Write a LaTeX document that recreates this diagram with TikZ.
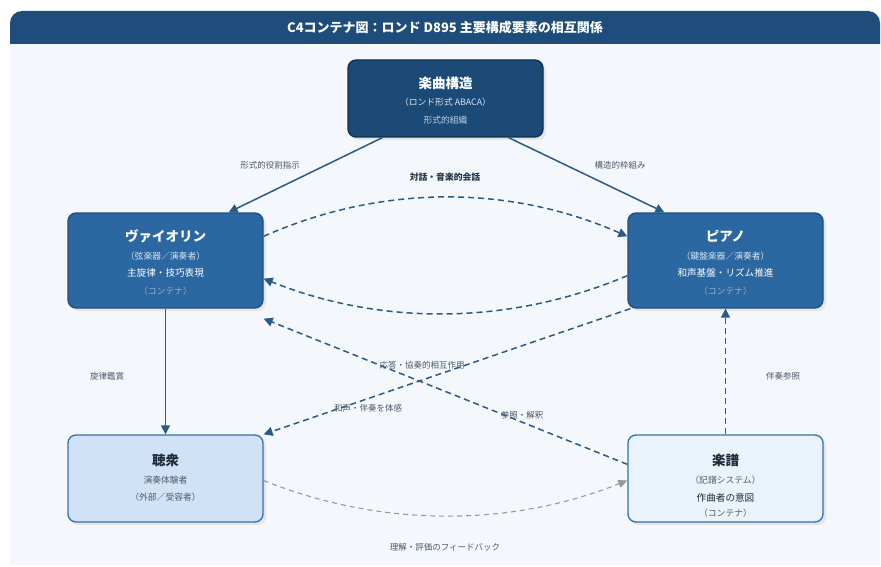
\documentclass[tikz,border=0pt]{standalone}
\usepackage{fontspec}
\setmainfont{Noto Sans CJK JP}
\usetikzlibrary{arrows.meta}
\definecolor{titlebg}{HTML}{1E4D7B}
\definecolor{pagebg}{HTML}{F4F8FC}
\definecolor{topfill}{HTML}{1C4A77}
\definecolor{topdraw}{HTML}{0F2F50}
\definecolor{midfill}{HTML}{2B67A0}
\definecolor{middraw}{HTML}{1F4E7E}
\definecolor{audfill}{HTML}{D0E2F5}
\definecolor{scofill}{HTML}{EAF3FB}
\definecolor{lightdraw}{HTML}{3471A8}
\definecolor{arrowc}{HTML}{2A5A8A}
\definecolor{labelc}{HTML}{4A5868}
\definecolor{subwhite}{HTML}{D6E4F2}
\definecolor{faded}{HTML}{8FB0D2}
\definecolor{darktext}{HTML}{1E2A38}
\definecolor{graytext}{HTML}{505A66}
\tikzset{
  x=1pt,y=-1pt,
  box/.style={rounded corners=8pt,line width=1.3pt,minimum width=195pt,inner sep=0pt},
  ttl/.style={font=\bfseries\fontsize{13.5}{15}\selectfont},
  sub/.style={font=\fontsize{8.8}{10}\selectfont},
  main/.style={font=\fontsize{9.6}{11}\selectfont},
  lbl/.style={font=\fontsize{8.5}{10}\selectfont,text=labelc},
  conn/.style={draw=arrowc,line width=1.5pt,-{Triangle[length=9pt,width=9pt]}},
  dconn/.style={conn,dash pattern=on 6pt off 4pt},
  gconn/.style={draw=black!40,line width=1.1pt,dash pattern=on 5pt off 4pt,-{Triangle[length=9pt,width=8pt]}}
}
\begin{document}
\begin{tikzpicture}
\useasboundingbox (0,0) rectangle (881,567);
\fill[white] (0,0) rectangle (881,567);
\fill[pagebg] (10,40) rectangle (880,565);
\fill[titlebg,rounded corners=12pt] (10,11) rectangle (880,56);
\fill[titlebg] (10,34) rectangle (880,44);
\fill[pagebg] (10,44) rectangle (880,56);
\node[text=white,font=\bfseries\fontsize{13}{15}\selectfont] (title) at (445,28) {C4コンテナ図：ロンド D895 主要構成要素の相互関係};

% shadows
\fill[black!10,rounded corners=8pt] (350,63) rectangle (546,140);
\fill[black!10,rounded corners=8pt] (70,216) rectangle (266,311);
\fill[black!10,rounded corners=8pt] (630,216) rectangle (826,311);
\fill[black!10,rounded corners=8pt] (70,438) rectangle (266,525);
\fill[black!10,rounded corners=8pt] (630,438) rectangle (826,525);

% boxes
\node[box,fill=topfill,draw=topdraw,minimum height=77pt] (struct) at (445.5,98.5) {};
\node[box,fill=midfill,draw=middraw,minimum height=95pt] (vio) at (165.5,260.5) {};
\node[box,fill=midfill,draw=middraw,minimum height=95pt] (pia) at (725.5,260.5) {};
\node[box,fill=audfill,draw=lightdraw,minimum height=87pt] (aud) at (165.5,478.5) {};
\node[box,fill=scofill,draw=lightdraw,minimum height=87pt] (sco) at (725.5,478.5) {};

% texts
\node[ttl,text=white] (structT) at (445.5,83) {楽曲構造};
\node[sub,text=subwhite] (structS) at (445.5,102) {（ロンド形式 ABACA）};
\node[sub,text=subwhite!85!topfill] (structR) at (445.5,120) {形式的組織};

\node[ttl,text=white] (vioT) at (165.5,236) {ヴァイオリン};
\node[sub,text=subwhite] (vioS) at (165.5,256) {（弦楽器／演奏者）};
\node[main,text=white] (vioR) at (165.5,273) {主旋律・技巧表現};
\node[sub,text=faded] (vioC) at (165.5,291) {（コンテナ）};

\node[ttl,text=white] (piaT) at (725.5,236) {ピアノ};
\node[sub,text=subwhite] (piaS) at (725.5,256) {（鍵盤楽器／演奏者）};
\node[main,text=white] (piaR) at (725.5,273) {和声基盤・リズム推進};
\node[sub,text=faded] (piaC) at (725.5,291) {（コンテナ）};

\node[ttl,text=darktext] (audT) at (165.5,460) {聴衆};
\node[sub,text=graytext] (audS) at (165.5,480) {演奏体験者};
\node[sub,text=graytext] (audR) at (165.5,497) {（外部／受容者）};

\node[ttl,text=darktext] (scoT) at (725.5,460) {楽譜};
\node[sub,text=graytext] (scoS) at (725.5,480) {（記譜システム）};
\node[main,text=darktext] (scoR) at (725.5,498) {作曲者の意図};
\node[sub,text=graytext] (scoC) at (725.5,513) {（コンテナ）};

% connectors
\draw[conn] ([xshift=35pt]struct.south west) -- ([xshift=-35pt]vio.north east);
\draw[conn] ([xshift=-35pt]struct.south east) -- ([xshift=37pt]pia.north west);
\draw[dconn] ([yshift=-24pt]vio.north east) .. controls +(117,-52) and +(-118,-52) .. ([yshift=-24pt]pia.north west);
\draw[dconn] ([yshift=33pt]pia.south west) .. controls +(-118,50) and +(117,47) .. ([yshift=30pt]vio.south east);
\draw[conn] (vio.south) -- (aud.north);
\draw[dconn] ([xshift=3pt]pia.south west) -- (aud.north east);
\draw[dconn] ([yshift=-30pt]sco.north west) -- ([yshift=-10pt]vio.south east);
\draw[dconn] (sco.north) -- (pia.south);
\draw[gconn] ([yshift=-2pt]aud.east) .. controls +(117,47) and +(-118,47) .. ([yshift=-2pt]sco.west);

% labels
\node[lbl] (l1) at (270,165) {形式的役割指示};
\node[lbl] (l2) at (620,165) {構造的枠組み};
\node[lbl,text=darktext!80!arrowc,font=\bfseries\fontsize{8.8}{10}\selectfont] (l3) at (445,177) {対話・音楽的会話};
\node[lbl] (l4) at (107,376) {旋律鑑賞};
\node[lbl] (l5) at (783,376) {伴奏参照};
\node[lbl] (l6) at (422,365) {応答・協奏的相互作用};
\node[lbl] (l7) at (368,408) {和声・伴奏を体感};
\node[lbl] (l8) at (522,415) {参照・解釈};
\node[lbl] (l9) at (445,547) {理解・評価のフィードバック};
\end{tikzpicture}
\end{document}
